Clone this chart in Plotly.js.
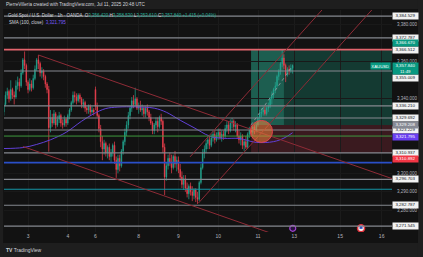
<!DOCTYPE html>
<html><head><meta charset="utf-8">
<script src="https://cdn.plot.ly/plotly-3.0.1.min.js"></script>
<style>html,body{margin:0;padding:0;background:#121212;overflow:hidden}#chart{width:423px;height:257px;}</style>
</head><body><div id="chart"></div>
<script>
// ---------- DATA (hourly bars, bar index 0 = Jul 3 00:00 UTC) ----------
const firstBar = -14;
const opens = [3333,3337,3342,3344,3340,3345,3342,3341,3347,3349,3347,3354,3361,3358,
3349,3345,3348,3346,3351,3356,3361,3359,3354,3355,3352,3348,3345,3324.5,3330,3327,3332,3326,3329,3331,3327,3326,3329,
3327,3331,3334,3338,3342,3341,3339,3342,3340,3337,3338,3335,3334,3336,3333,3334,
3345,3336,3331,3324,3317,3313,3316,3311,3314,3309,3311,3315,3307,3302,3308,3304,3312,3317,3322,3326,3331,3335,3339,3337,3340,
3335,3336,3334,3335,3332,3335,3333,3330,3327,3323,3326,3328,3325,3330,3328,3314,3298,3304,3308,3306,3303,3309,3305,
3307,3302,3298,3294,3297,3292,3289,3293,3290,3288,3291,3287,3286,3295,3303,3311,3313,3316,3318,3315,3319,3321,3318,
3320,3322,3319,3321,3320,3324,3326,3323,3327,3328,3325,3326,3320,3318,3320,3315,3317,3314,3321,3323,3322,3325,3323,
3326,3330,3332,3333,3334,3332,3335,3336,3340,3342,3345,3347,3352,3355,3359,3362,3358,3353,3356,3355,3356.42];
const highs = [3338,3344,3346,3345,3350,3346,3344,3350,3352,3351,3356,3362,3365.5,3359,
3350,3351,3350,3353,3358,3362,3363.6,3360,3357,3356,3353,3349,3347,3334,3332,3334,3333,3331,3333,3332,3329,3331,3330,
3332,3335,3339,3344,3344,3343,3343,3343,3341,3340,3339,3336,3337,3337,3336,3335,
3346.6,3338,3332,3326,3320,3318,3317,3315,3316,3313,3316,3317,3309,3310,3310,3313,3318,3324,3328,3333,3336,3341,3342,3346,3341,
3338,3339,3337,3336,3336,3337,3334,3332,3328,3327,3330,3330,3331,3332,3329,3316,3306,3310,3311,3310,3310,3312,3309,
3309,3305,3301,3299,3299,3295,3294,3295,3293,3292,3292,3290,3296,3305,3313,3315,3318,3320,3320,3321,3323,3323,3322,
3324,3324,3323,3323,3326,3328,3328,3329,3329.8,3329,3328,3327,3323,3322,3321,3318,3320,3322,3325,3326,3326,3326,3327,
3331,3334,3335,3336,3336,3336,3338,3341,3344,3346,3349,3353,3356,3360,3366.67,3364,3359,3357,3358,3358.6,3358.53];
const lows = [3331,3336,3340,3338,3339,3340,3337,3340,3345,3344,3346,3353,3356,3347,
3343,3344,3344,3345,3350,3355,3356,3352,3351,3350,3346,3343,3311.6,3322,3325,3326,3324,3325,3327,3325,3324,3325,3325,
3326,3329,3333,3337,3338,3337,3338,3338,3335,3335,3333,3332,3332,3331,3332,3331,
3334,3330,3322,3314,3307,3310,3309,3308,3307,3306,3309,3305,3297.5,3300,3301,3303,3310,3315,3320,3324,3329,3333,3335,3336,3334,
3332,3333,3331,3330,3330,3331,3328,3326,3321,3321,3324,3322,3324,3326,3311,3288.3,3296,3302,3304,3300,3302,3303,3301,
3300,3296,3292,3291,3290,3287,3286,3288,3285,3286,3284.5,3283.5,3285,3294,3302,3308,3311,3313,3313,3314,3317,3316,3317,
3318,3318,3317,3318,3319,3322,3321,3322,3324,3323,3322,3319,3316,3315,3313,3312,3313,3313,3319,3320,3320,3321,3322,
3325,3328,3330,3331,3331,3331,3333,3335,3337,3340,3343,3346,3350,3353,3357,3356,3349,3352,3353,3354,3353.61];
const closes = [3337,3342,3344,3340,3345,3342,3341,3347,3349,3347,3354,3361,3358,3349,
3345,3348,3346,3351,3356,3361,3359,3354,3355,3352,3348,3345,3324.5,3330,3327,3332,3326,3329,3331,3327,3326,3329,3327,
3331,3334,3338,3342,3341,3339,3342,3340,3337,3338,3335,3334,3336,3333,3334,3333,
3336,3331,3324,3317,3313,3316,3311,3314,3309,3311,3315,3307,3302,3308,3304,3312,3317,3322,3326,3331,3335,3339,3337,3340,3335,
3336,3334,3335,3332,3335,3333,3330,3327,3323,3326,3328,3325,3330,3328,3314,3298,3304,3308,3306,3303,3309,3305,3307,
3302,3298,3294,3297,3292,3289,3293,3290,3288,3291,3287,3286,3295,3303,3311,3313,3316,3318,3315,3319,3321,3318,3320,
3322,3319,3321,3320,3324,3326,3323,3327,3328,3325,3326,3320,3318,3320,3315,3317,3314,3321,3323,3322,3325,3323,3326,
3330,3332,3333,3334,3332,3335,3336,3340,3342,3345,3347,3352,3355,3359,3362,3358,3353,3356,3355,3356.42,3357.84];

const dayTickIdx = [0, 23, 39, 64, 87, 110, 133, 154, 180.5, 204.5];
const dayTickText = ['3','4','6','8','9','10','11','13','15','16'];
const priceTicks = [3280,3290,3300,3340,3360,3380];

// SMA(100)
const smaIdx = [-13.9,-3,5,13,22,31,38,45,52,62,73,80,88,96,105,113,122,132,142,148,153];
const smaVal = [3313.3,3313.8,3315.5,3318,3322,3328,3332,3334.8,3335.6,3335.7,3335,3332.8,3328.5,3324.5,3320,3318.8,3318.7,3316.6,3317,3318.9,3321.795];

// Horizontal levels
const greyLevels = [3384.529, 3372.787, 3355.009, 3336.210, 3329.692, 3323.229, 3310.937, 3296.703, 3282.787, 3271.545];
const targetLevel = 3366.512;
const highLevel = 3366.670;
const lastPrice = 3357.840;
const entryLevel = 3329.208;
const smaLast = 3321.795;
const stopLevel = 3310.892;
const greenLevel = 3320.0, blueLevel = 3305.7, cyanLevel = 3291.4;

// Long position tool: [startIdx, targetHitIdx, endIdx], prices
const positionIdx = [129, 148, 210.5];
const positionEntryDrawn = 3326.0;

// Trend lines: [idx0, price0, idx1, price1]
const trendLines = [
  [6, 3363.6, 210.5, 3297.1],
  [-3, 3314.4, 140, 3267.9],
  [93.7, 3308.8, 170.0, 3387.8],
  [98.5, 3283.9, 198.8, 3387.8]
];
const circleBox = [128.6, 3316.6, 141.4, 3328.4];
const eventIdx = [153.1, 192.6];
const eventPrice = 3270.4;

// ---------- BUILD ----------
const barIndex = opens.map((_, i) => firstBar + i);
const fmt = p => p.toLocaleString('en-US', {minimumFractionDigits: 3, maximumFractionDigits: 3});
const UP = '#22a58f', DN = '#f0414f';
const FONT = 'Liberation Sans, Arial, sans-serif';

const traces = [
  {type: 'candlestick', x: barIndex, open: opens, high: highs, low: lows, close: closes,
   increasing: {line: {color: UP, width: 0.7}, fillcolor: UP},
   decreasing: {line: {color: DN, width: 0.7}, fillcolor: DN},
   whiskerwidth: 0, hoverinfo: 'skip', showlegend: false},
  {type: 'scatter', mode: 'lines', x: smaIdx, y: smaVal, line: {color: '#6140d8', width: 1, shape: 'spline'},
   hoverinfo: 'skip', showlegend: false},
  {type: 'scatter', mode: 'markers', x: [eventIdx[0]], y: [eventPrice],
   marker: {size: 6, color: '#2a1240', line: {color: '#a040d0', width: 1.2}}, hoverinfo: 'skip', showlegend: false},
  {type: 'scatter', mode: 'markers', x: [eventIdx[1]], y: [eventPrice],
   marker: {size: 7, color: '#f4f4f4', line: {color: '#e0303a', width: 1.5}}, hoverinfo: 'skip', showlegend: false},
  {type: 'scatter', mode: 'markers', x: [eventIdx[1]], y: [eventPrice + 0.5],
   marker: {size: 3, color: '#3050c0', symbol: 'square'}, hoverinfo: 'skip', showlegend: false}
];

const shapes = [];
const frame = '#1e1e1e';
shapes.push({type:'rect', xref:'paper', yref:'paper', x0:-0.05, x1:1.2, y0:1.0045, y1:1.1, fillcolor:frame, line:{width:0}, layer:'above'});
shapes.push({type:'rect', xref:'paper', yref:'paper', x0:-0.05, x1:1.2, y0:-0.2, y1:-0.0495, fillcolor:frame, line:{width:0}, layer:'above'});
shapes.push({type:'rect', xref:'paper', yref:'paper', x0:1.067, x1:1.2, y0:-0.2, y1:1.1, fillcolor:frame, line:{width:0}, layer:'above'});
shapes.push({type:'rect', xref:'paper', yref:'paper', x0:-0.05, x1:-0.002, y0:-0.2, y1:1.1, fillcolor:frame, line:{width:0}, layer:'above'});

// position zones
shapes.push({type:'rect', xref:'x', yref:'y', x0:positionIdx[0], x1:positionIdx[2], y0:positionEntryDrawn, y1:highLevel, fillcolor:'#143a32', line:{width:0}, layer:'below'});
shapes.push({type:'rect', xref:'x', yref:'y', x0:positionIdx[0], x1:positionIdx[1], y0:positionEntryDrawn, y1:highLevel, fillcolor:'#1d5e50', line:{width:0}, layer:'below'});
shapes.push({type:'rect', xref:'x', yref:'y', x0:positionIdx[0], x1:positionIdx[2], y0:stopLevel, y1:positionEntryDrawn, fillcolor:'#3a1a1f', line:{width:0}, layer:'below'});

const hline = (p, color, w) => ({type:'line', xref:'paper', yref:'y', x0:0, x1:1, y0:p, y1:p, line:{color:color, width:w}, layer:'above'});
greyLevels.forEach(p => shapes.push(hline(p, '#85888f', 1.1)));
shapes.push(hline(targetLevel, '#e2646d', 1.6));
shapes.push(hline(greenLevel, '#3f9a3f', 1));
shapes.push(hline(blueLevel, '#2a4fc8', 1.6));
shapes.push(hline(cyanLevel, '#1696a6', 1.1));

trendLines.forEach(t => shapes.push({type:'line', xref:'x', yref:'y', x0:t[0], y0:t[1], x1:t[2], y1:t[3], line:{color:'#8e2b36', width:1}, layer:'above'}));
shapes.push({type:'line', xref:'x', yref:'y', x0:positionIdx[0], y0:positionEntryDrawn, x1:barIndex[barIndex.length-1], y1:lastPrice, line:{color:'#9aa0a6', width:0.8, dash:'dot'}, layer:'above'});
shapes.push({type:'circle', xref:'x', yref:'y', x0:circleBox[0], y0:circleBox[1], x1:circleBox[2], y1:circleBox[3], fillcolor:'rgba(240,130,60,0.55)', line:{color:'#e0424a', width:1}, layer:'above'});

// axis labels
const ann = [];
const LBL = 4.4;
const lab = (p, bg, fg, shift) => ({xref:'paper', yref:'y', x:1, y:p, xanchor:'left', yanchor:'middle', yshift:shift||0,
  text: fmt(p), showarrow:false, bgcolor:bg, font:{family:FONT, size:LBL, color:fg}, width:25, height:5.6, align:'center', valign:'middle', borderpad:0});
const shiftFor = {3355.009: -7.5};
greyLevels.forEach(p => ann.push(lab(p, '#f2f2f2', '#131722', shiftFor[p] || 0)));
ann.push(lab(targetLevel, '#f2f2f2', '#131722', 0));
ann.push(lab(highLevel, '#089981', '#ffffff', 5.8));
ann.push(lab(entryLevel, '#868993', '#ffffff', -5.6));
ann.push(lab(smaLast, '#6a3ff0', '#ffffff', -4.2));
ann.push(lab(stopLevel, '#f23645', '#ffffff', -6.2));
ann.push({xref:'paper', yref:'y', x:1, y:lastPrice, xanchor:'left', yanchor:'middle', yshift:-2.8,
  text: fmt(lastPrice) + '<br>11:49', showarrow:false, bgcolor:'#089981', font:{family:FONT, size:LBL, color:'#ffffff'}, width:25, height:10.5, align:'center', valign:'middle', borderpad:0});
ann.push({xref:'paper', yref:'y', x:1, y:lastPrice, xanchor:'right', yanchor:'middle', xshift:-1, yshift:0,
  text:'XAUUSD', showarrow:false, bgcolor:'#089981', font:{family:FONT, size:4.3, color:'#ffffff'}, height:5.6, borderpad:0.3});

// header and legend
ann.push({xref:'paper', yref:'paper', x:0, y:1.0248, xanchor:'left', yanchor:'middle', showarrow:false,
  text:'PierreVilleria created with TradingView.com, Jul 11, 2025 20:48 UTC', font:{family:FONT, size:4.6, color:'#d1d4dc'}});
const tv = s => '<span style="color:#22ab94">' + s + '</span>';
ann.push({xref:'paper', yref:'paper', x:0.005, y:0.9743, xanchor:'left', yanchor:'middle', showarrow:false,
  text:'Gold Spot / U.S. Dollar · 1h · OANDA  O' + tv('3,356.420') + ' H' + tv('3,358.530') + ' L' + tv('3,353.610') + ' C' + tv('3,357.840') + ' ' + tv('+1.415 (+0.04%)'),
  font:{family:FONT, size:4.5, color:'#d1d4dc'}});
ann.push({xref:'paper', yref:'paper', x:0.008, y:0.9446, xanchor:'left', yanchor:'middle', showarrow:false,
  text:'SMA (100, close)  <span style="color:#7b5cff">' + fmt(smaLast) + '</span>', font:{family:FONT, size:4.5, color:'#d1d4dc'}});
ann.push({xref:'paper', yref:'paper', x:0.0, y:-0.081, xanchor:'left', yanchor:'middle', showarrow:false,
  text:'<b>TV</b> TradingView', font:{family:FONT, size:5, color:'#d1d4dc'}});

const layout = {
  width: 423, height: 257,
  margin: {l:4, r:31, t:10, b:25},
  paper_bgcolor: '#121212', plot_bgcolor: '#121212',
  showlegend: false, boxgap: 0.45,
  xaxis: {range:[-13.9, 210.5], tickvals: dayTickIdx, ticktext: dayTickText, ticks:'', showline:false, zeroline:false,
    showgrid:true, gridcolor:'#1b1b1b', gridwidth:1, tickfont:{family:FONT, size:5, color:'#b2b5be'},
    rangeslider:{visible:false}, fixedrange:true},
  yaxis: {range:[3268.4, 3387.8], side:'right', tickvals: priceTicks, ticktext: priceTicks.map(fmt), ticks:'',
    showline:false, zeroline:false, showgrid:true, gridcolor:'#191919', tickfont:{family:FONT, size:4.5, color:'#b2b5be'},
    ticklabelstandoff: 4, fixedrange:true},
  shapes: shapes, annotations: ann
};
Plotly.newPlot('chart', traces, layout, {displayModeBar:false, staticPlot:true});
</script></body></html>
